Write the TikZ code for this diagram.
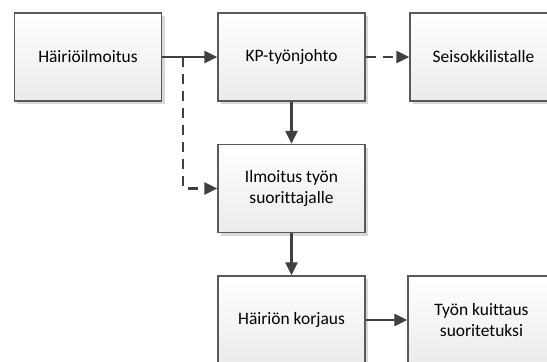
\documentclass[tikz,border=0pt]{standalone}
\usepackage{fontspec}
\setmainfont[Ligatures={NoCommon}]{Carlito}
\usetikzlibrary{arrows.meta,shadows}
\definecolor{edge}{HTML}{595959}
\definecolor{wire}{HTML}{404040}
\definecolor{boxtop}{HTML}{FFFFFF}
\definecolor{boxbot}{HTML}{EBEBEB}
\begin{document}
\begin{tikzpicture}[x=1bp,y=-1bp,
  stepbox/.style={draw=edge, line width=1.3bp, top color=boxtop, bottom color=boxbot,
    minimum width=147bp, minimum height=88bp, align=center, inner sep=2bp,
    font=\fontsize{17.5}{20.5}\selectfont, text=black,
    drop shadow={shadow xshift=3bp, shadow yshift=-3bp, fill=black!15, opacity=1}},
  flow/.style={draw=wire, line width=2.3bp, -{Triangle[length=13bp,width=12bp]}},
  dflow/.style={flow, dash pattern=on 10bp off 7bp}]
  \useasboundingbox (0,0) rectangle (547,361);
  \begin{scope}
  \clip (0,0) rectangle (547,361);
  \node[stepbox] (ilm)  at (88,57)    {Häiriöilmoitus};
  \node[stepbox] (kp)   at (291.5,57) {KP-työnjohto};
  \node[stepbox] (seis) at (483.5,57) {Seisokkilistalle};
  \node[stepbox] (suor) at (291.5,188.5) {Ilmoitus työn\\suorittajalle};
  \node[stepbox] (korj) at (291.5,320) {Häiriön korjaus};
  \node[stepbox] (kuit) at (481.5,320) {Työn kuittaus\\suoritetuksi};
  \end{scope}
  \coordinate (split) at (183,57);
  \draw[flow] (ilm.east) -- (kp.west);
  \draw[dflow] (split) |- (suor.west);
  \draw[dflow] (kp.east) -- (seis.west);
  \draw[flow] (kp.south) -- (suor.north);
  \draw[flow] (suor.south) -- (korj.north);
  \draw[flow] (korj.east) -- (kuit.west);
\end{tikzpicture}
\end{document}
